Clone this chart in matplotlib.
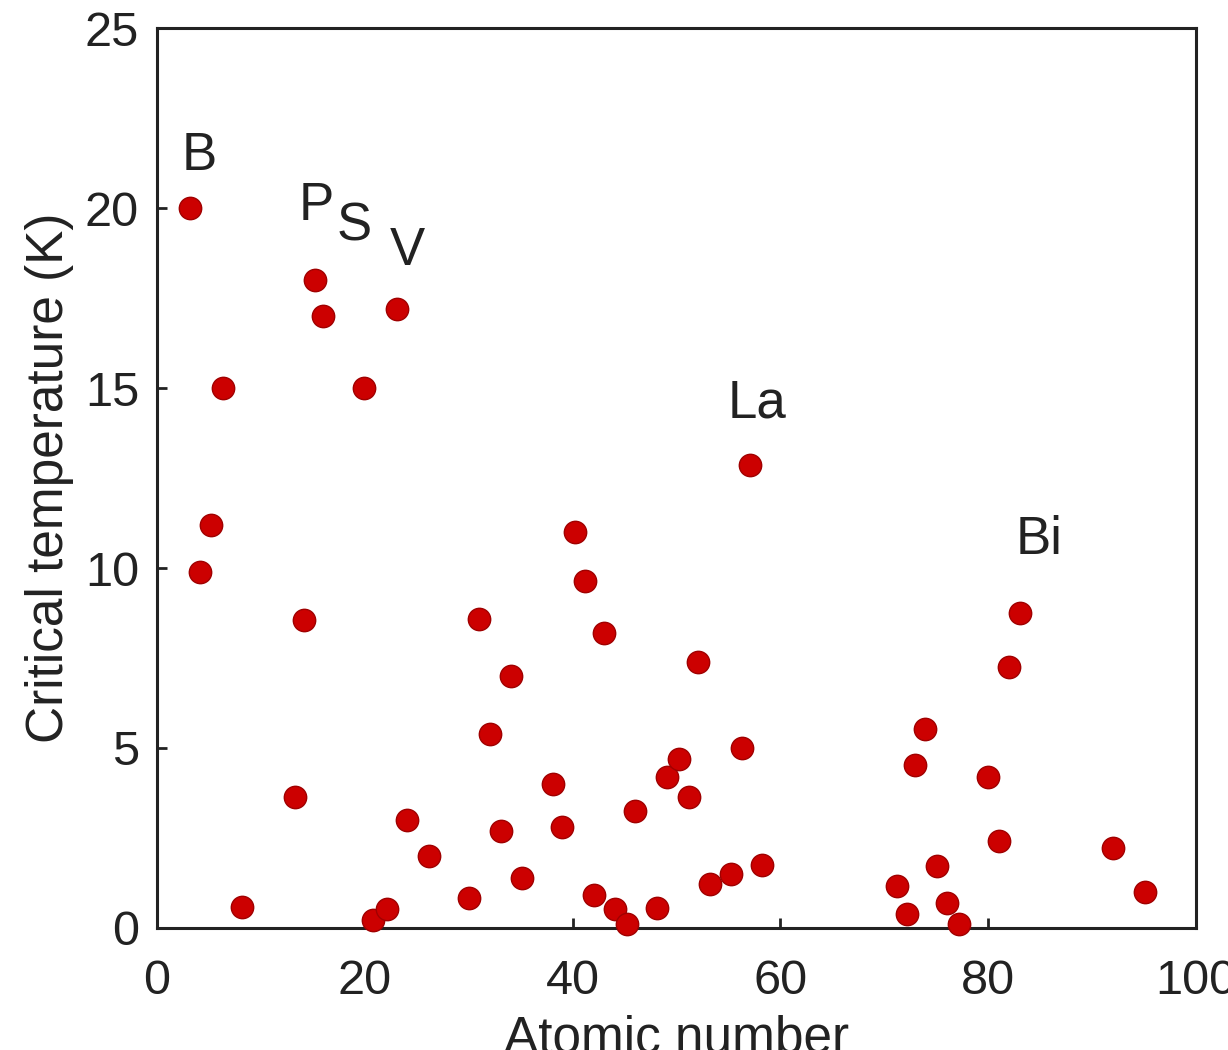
import matplotlib
matplotlib.use("Agg")
import matplotlib.pyplot as plt

atomic_number = [3.2, 6.3, 5.2, 4.1, 8.2, 15.2, 16.0, 19.9, 23.1, 14.1, 13.3, 20.8, 22.1,
                 24.1, 26.2, 30.0, 31.0, 32.0, 33.1, 34.1, 35.1, 38.1, 39.0, 40.2, 41.2,
                 42.1, 43.0, 44.1, 45.2, 46.0, 48.1, 49.1, 50.2, 51.2, 52.1, 53.2, 55.2,
                 56.3, 57.1, 58.2, 71.2, 72.2, 72.9, 73.9, 75.1, 76.0, 77.2, 80.0, 81.0,
                 82.0, 83.1, 92.0, 95.1]
critical_temp = [20.0, 15.0, 11.2, 9.9, 0.58, 18.0, 17.0, 15.0, 17.2, 8.55, 3.63, 0.22, 0.53,
                 3.0, 2.0, 0.83, 8.57, 5.4, 2.7, 7.0, 1.39, 4.0, 2.8, 11.0, 9.63,
                 0.92, 8.2, 0.53, 0.1, 3.25, 0.55, 4.2, 4.7, 3.63, 7.4, 1.22, 1.5,
                 5.0, 12.85, 1.75, 1.17, 0.39, 4.52, 5.52, 1.72, 0.69, 0.11, 4.19, 2.41,
                 7.24, 8.74, 2.22, 1.0]

label_text = ["B", "P", "S", "V", "La", "Bi"]
label_x = [4.1, 15.3, 19.0, 24.1, 57.7, 84.9]
label_y = [21.45, 20.06, 19.48, 18.8, 14.57, 10.77]

xticks = [0, 20, 40, 60, 80, 100]
yticks = [0, 5, 10, 15, 20, 25]

plt.rcParams['font.family'] = ['Liberation Sans', 'DejaVu Sans']

fig = plt.figure(figsize=(12.28, 10.5), dpi=100)
ax = fig.add_axes([0.1279, 0.1162, 0.974 - 0.1279, 0.9733 - 0.1162])

ax.scatter(atomic_number, critical_temp, s=260, c='#cc0000', edgecolors='#a00000',
           linewidths=1.0, zorder=3, clip_on=False)

for t, x, y in zip(label_text, label_x, label_y):
    ax.text(x, y, t, fontsize=38, ha='center', va='center', color='#222222')

ax.set_xlim(0, 100)
ax.set_ylim(0, 25)
ax.set_xticks(xticks)
ax.set_yticks(yticks)
ax.tick_params(direction='in', length=7, width=2, labelsize=35,
               colors='#222222', top=False, right=False)
ax.tick_params(axis='x', pad=22)
ax.tick_params(axis='y', pad=13)
for sp in ax.spines.values():
    sp.set_linewidth(2.2)
    sp.set_color('#222222')

ax.set_xlabel("Atomic number", fontsize=37, color='#222222', labelpad=8)
ax.set_ylabel("Critical temperature (K)", fontsize=37, color='#222222', labelpad=8)

fig.savefig("out.png", dpi=100)
